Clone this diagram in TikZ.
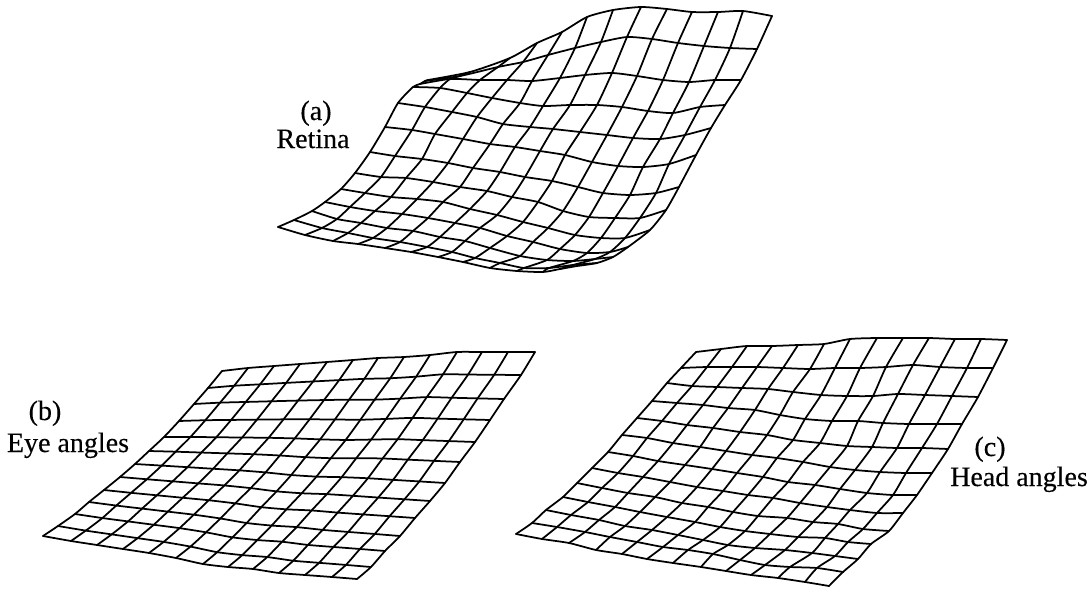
\documentclass[tikz,border=0pt]{standalone}
\usepackage{fontspec}
\setmainfont{Liberation Serif}
\newfontfamily\capfont[FakeBold=0.25]{Liberation Serif}
\tikzset{
  meshline/.style={draw=black,line width=1.75pt,line join=round,line cap=round},
  caption/.style={anchor=base,inner sep=0pt,font=\capfont\fontsize{28}{30}\selectfont,text=black}
}
\newcommand{\meshtable}[2]{%
  \foreach \row [count=\j from 0] in {#2}{%
    \foreach \x/\y [count=\i from 0] in \row{\coordinate (#1-\j-\i) at (\x,\y);}}}
\newcommand{\drawmesh}[1]{%
  \foreach \j in {0,...,12}{%
    \gdef\meshlist{}%
    \foreach \i in {0,...,12}{\xdef\meshlist{\meshlist (#1-\j-\i)}}%
    \edef\meshcmd{\noexpand\draw[meshline] plot[smooth,tension=.4] coordinates {\meshlist};}\meshcmd}%
  \foreach \i in {0,...,12}{%
    \gdef\meshlist{}%
    \foreach \j in {0,...,12}{\xdef\meshlist{\meshlist (#1-\j-\i)}}%
    \edef\meshcmd{\noexpand\draw[meshline] plot[smooth,tension=.4] coordinates {\meshlist};}\meshcmd}}
\def\bTx{{222,248,274,300,327,353,378,404,430,457,482,508,535}}
\def\bTy{{371,368,366,364,362,360,358,357,355,352,352,352,352}}
\def\bBx{{43,71,97,123,149,176,203,228,253,279,305,332,357}}
\def\bBy{{536,541,545,549,553,558,564,567,569,573,575,577,579}}
\def\bLx{{222,208,194,179,164,149,135,120,104,89,75,58,43}}
\def\bLy{{371,388,404,421,437,451,464,477,490,502,514,526,536}}
\def\bRx{{535,521,504,490,475,460,445,430,415,400,385,371,357}}
\def\bRy{{352,375,399,420,442,462,483,501,518,536,551,567,579}}
\begin{document}
\begin{tikzpicture}[x=1pt,y=-1pt]
\useasboundingbox (0,0) rectangle (1089,594);
\meshtable{a}{
{428/80,470/72,510/58,537/43,562/32,587/17,613/10,641/7,667/9,692/12,718/12,743/11,772/16},
{425/81,460/76,498/67,523/62,548/55,575/48,601/42,627/37,652/39,678/43,704/46,730/48,757/49},
{420/84,450/79,480/80,507/80,532/81,560/78,585/75,612/73,637/76,663/80,689/82,715/80,741/80},
{413/87,440/88,467/93,492/98,520/103,543/106,570/105,597/105,622/107,648/111,673/113,700/107,725/105},
{398/103,425/107,452/112,477/117,503/124,530/127,553/129,580/132,607/135,633/138,660/139,685/135,711/128},
{385/127,412/130,435/134,463/139,490/144,515/147,540/151,565/155,592/162,618/166,643/167,669/164,696/155},
{370/152,395/156,422/159,448/163,473/168,500/172,525/177,552/181,578/187,603/193,630/195,656/193,679/187},
{355/173,381/177,406/178,433/182,460/187,487/191,512/197,538/202,563/211,589/217,615/218,640/218,666/210},
{341/189,365/193,391/197,417/199,443/202,470/209,497/215,523/222,548/228,575/235,601/238,625/238,650/230},
{325/202,350/207,375/211,402/214,428/218,455/223,480/228,507/236,533/242,560/249,587/253,610/252,628/247},
{312/211,337/219,361/223,387/228,413/231,440/237,465/241,490/248,520/256,547/260,573/261,595/259,613/257},
{294/220,322/228,348/233,373/238,400/242,427/247,452/252,475/258,500/263,524/268,549/268,573/265,597/263},
{278/227,305/235,333/241,358/244,385/248,411/252,438/257,463/262,490/268,517/271,543/272,560/269,577/266}}
\meshtable{c}{
{696/352,721/349,747/346,772/346,798/345,824/344,850/339,877/338,903/338,929/338,955/339,981/339,1007/340},
{681/368,707/367,732/367,757/367,783/368,810/369,835/368,860/368,886/367,913/365,940/367,967/368,993/368},
{667/383,692/386,717/387,742/388,768/389,793/392,821/395,847/396,873/396,898/394,925/395,952/396,978/397},
{652/401,677/403,703/405,728/408,755/410,780/415,805/419,832/421,858/421,883/423,909/424,937/424,962/424},
{637/418,662/421,687/425,713/428,740/432,767/435,793/440,820/443,847/446,872/447,897/448,922/448,948/449},
{622/435,647/438,673/443,700/447,726/451,752/455,777/458,803/462,830/467,855/470,880/472,906/473,932/473},
{608/452,633/456,658/461,685/465,712/469,737/473,763/477,788/482,815/485,840/489,867/493,893/495,917/495},
{592/468,618/473,643/477,670/482,697/487,723/491,748/495,773/498,800/503,827/507,850/510,877/513,903/513},
{577/483,602/488,628/493,655/497,682/503,708/507,733/512,758/516,787/518,813/522,838/524,863/529,889/531},
{563/497,588/502,615/507,640/512,667/517,695/522,720/527,745/531,770/534,798/537,825/538,848/542,871/544},
{546/510,571/515,599/520,625/526,652/530,678/535,703/540,728/545,755/548,785/550,812/553,835/556,858/559},
{532/523,557/527,585/532,610/537,637/542,663/547,688/550,713/554,740/560,765/565,790/567,817/568,843/572},
{516/534,542/539,569/543,596/550,622/554,647/559,673/563,701/567,726/571,751/575,778/578,805/582,829/586}}
\foreach \j in {0,...,12}{\foreach \i in {0,...,12}{
  \pgfmathsetmacro\u{\i/12}\pgfmathsetmacro\v{\j/12}
  \pgfmathsetmacro\X{(1-\v)*\bTx[\i]+\v*\bBx[\i]+(1-\u)*\bLx[\j]+\u*\bRx[\j]-((1-\u)*(1-\v)*222+\u*(1-\v)*535+(1-\u)*\v*43+\u*\v*357)}
  \pgfmathsetmacro\Y{(1-\v)*\bTy[\i]+\v*\bBy[\i]+(1-\u)*\bLy[\j]+\u*\bRy[\j]-((1-\u)*(1-\v)*371+\u*(1-\v)*352+(1-\u)*\v*536+\u*\v*579)}
  \coordinate (b-\j-\i) at (\X,\Y);}}
\drawmesh{a}
\drawmesh{b}
\drawmesh{c}
\node[caption] (la1) at (316,120) {(a)};
\node[caption] (la2) at (313,148) {Retina};
\node[caption] (lb1) at (45,420) {(b)};
\node[caption] (lb2) at (68,452) {Eye angles};
\node[caption] (lc1) at (990,456) {(c)};
\node[caption] (lc2) at (1019,486) {Head angles};
\end{tikzpicture}
\end{document}
